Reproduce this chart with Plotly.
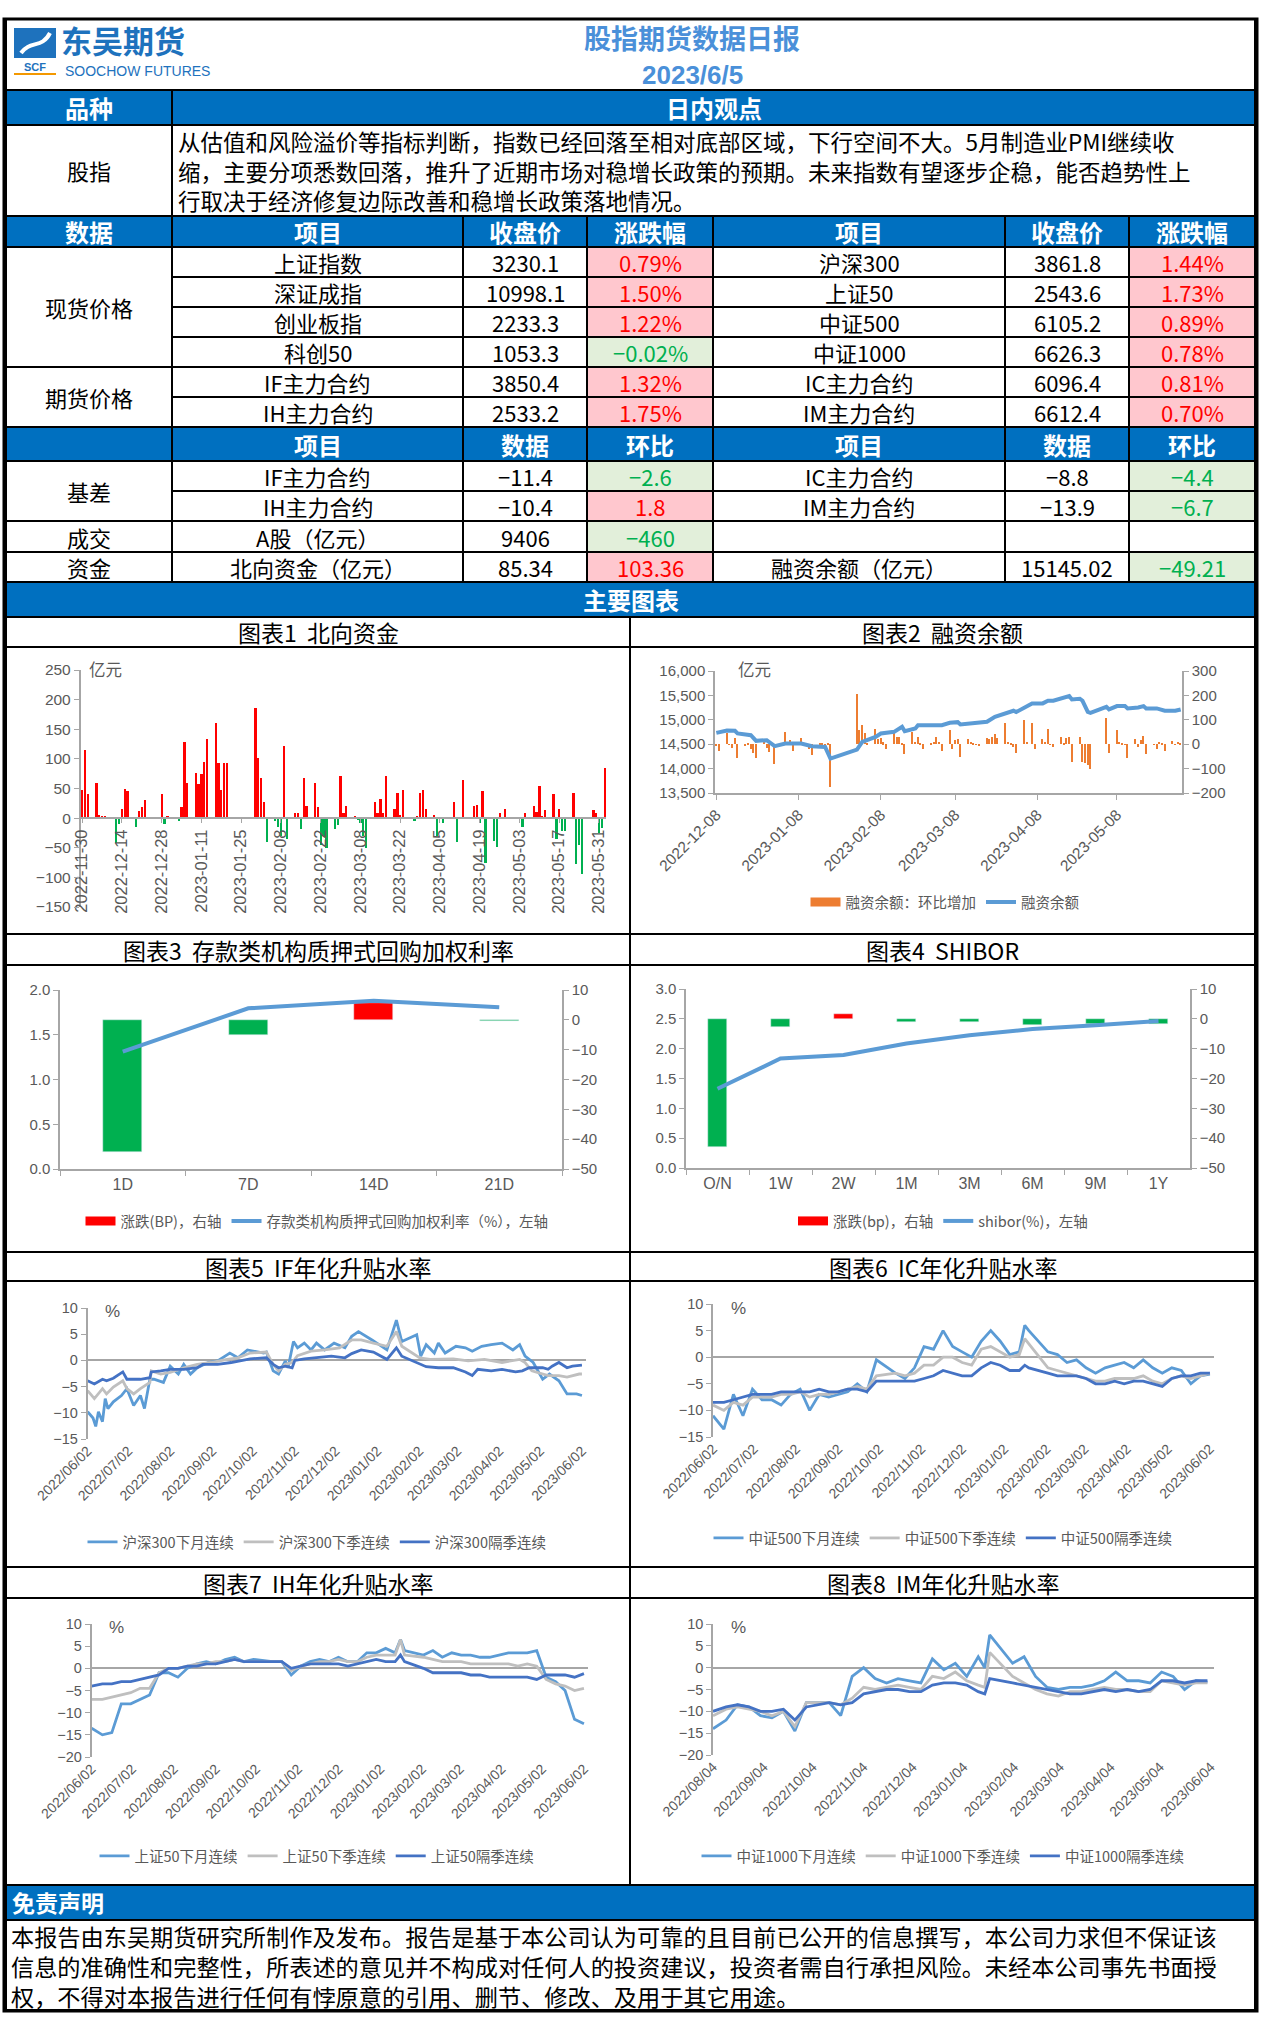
import plotly.graph_objects as go
import pandas as pd

W, H = 1262, 2028


def px(x):
    return x / W


def py(y):
    return 1 - y / H


CJK = "Noto Sans CJK SC"
NARROW = "Liberation Sans Narrow, Noto Sans CJK SC"
SANS = "Liberation Sans, Noto Sans CJK SC"
BAR_BLUE = "#0070C0"
GREY = "#595959"
AXC = "#A6A6A6"
PINK, RED_T = "#FFC7CE", "#FF0000"
LGREEN, GREEN_T = "#E2EFDA", "#00B050"
RED_BAR, GREEN_BAR = "#FF0000", "#00B050"
L_BLUE, L_GREY, D_BLUE = "#5B9BD5", "#BFBFBF", "#4472C4"
ORANGE = "#ED7D31"
LOGO_BLUE = "#1E72BD"
TITLE_BLUE = "#4A90D9"
DAY = 86400000

# ------------------------------------------------------------------ text data
report_title = "股指期货数据日报"
report_date = "2023/6/5"
company_cn = "东吴期货"
company_en = "SOOCHOW FUTURES"
company_abbr = "SCF"

view_label = "股指"
view_lines = [
    "从估值和风险溢价等指标判断，指数已经回落至相对底部区域，下行空间不大。5月制造业PMI继续收",
    "缩，主要分项悉数回落，推升了近期市场对稳增长政策的预期。未来指数有望逐步企稳，能否趋势性上",
    "行取决于经济修复边际改善和稳增长政策落地情况。",
]
disclaimer_lines = [
    "本报告由东吴期货研究所制作及发布。报告是基于本公司认为可靠的且目前已公开的信息撰写，本公司力求但不保证该",
    "信息的准确性和完整性，所表述的意见并不构成对任何人的投资建议，投资者需自行承担风险。未经本公司事先书面授",
    "权，不得对本报告进行任何有悖原意的引用、删节、修改、及用于其它用途。",
]

# ------------------------------------------------------------------ table data
spot_names_l = ["上证指数", "深证成指", "创业板指", "科创50"]
spot_close_l = [3230.1, 10998.1, 2233.3, 1053.3]
spot_chg_l = [0.79, 1.50, 1.22, -0.02]
spot_names_r = ["沪深300", "上证50", "中证500", "中证1000"]
spot_close_r = [3861.8, 2543.6, 6105.2, 6626.3]
spot_chg_r = [1.44, 1.73, 0.89, 0.78]

fut_names_l = ["IF主力合约", "IH主力合约"]
fut_close_l = [3850.4, 2533.2]
fut_chg_l = [1.32, 1.75]
fut_names_r = ["IC主力合约", "IM主力合约"]
fut_close_r = [6096.4, 6612.4]
fut_chg_r = [0.81, 0.70]

basis_names_l = ["IF主力合约", "IH主力合约"]
basis_val_l = [-11.4, -10.4]
basis_chg_l = [-2.6, 1.8]
basis_names_r = ["IC主力合约", "IM主力合约"]
basis_val_r = [-8.8, -13.9]
basis_chg_r = [-4.4, -6.7]

turnover_name = "A股（亿元）"
turnover_val = 9406
turnover_chg = -460
north_name = "北向资金（亿元）"
north_val = 85.34
north_chg = 103.36
margin_name = "融资余额（亿元）"
margin_val = 15145.02
margin_chg = -49.21

# ------------------------------------------------------------------ chart data
holidays = ["2023-01-02", "2023-01-23", "2023-01-24", "2023-01-25", "2023-01-26",
            "2023-01-27", "2023-04-05", "2023-05-01", "2023-05-02", "2023-05-03"]


def trading_days(start, end):
    d = pd.bdate_range(start, end)
    d = d[~d.isin(pd.to_datetime(holidays))]
    return [x.strftime("%Y-%m-%d") for x in d]


# 图表1 北向资金 (亿元), one value per trading day 2022-11-30 .. 2023-06-02
nb_dates = trading_days("2022-11-30", "2023-06-02")
nb_values = [48, 115, 40,
             60, 5, 3, 3, 0,
             -42, -10, 16, 50, 45,
             -15, 12, 18, 30, 0,
             0, 0, 40, -10, 3,
             -5, 18, 128, 60,
             77, 57, 75, 95, 133,
             160, 93, 47, 93, 93,
             186, 102, 68, 28, -40,
             -5, -15, -30, 122, -35,
             8, 8, -18, 68, 21,
             60, 18, -45, -30, -50,
             -18, -12, 71, 8, 20,
             3, -3, -8, -30, -50,
             27, 8, 33, 8, 71,
             16, 42, 5, 48, 0,
             -5, 3, 42, 48, 16,
             5, -30, -8, 0,
             27, -40, 0, 65, 0,
             20, 22, -8, 46, -75,
             -38, -48, 8, 0, 16,
             -15, 8,
             20, 10, 55, 3, 14,
             40, -35, 16, -22, -22,
             42, -78, -45, -95, 0,
             14, 8, -25, -16, 85]

# 图表2 融资余额: daily change (亿元) 2022-12-08 .. 2023-06-01
mg_dates = trading_days("2022-12-08", "2023-06-01")
mg_change = [-8, -27,
             45, -3, -16, 25, -55,
             -7, 4, -20, -37, -55,
             11, -14, -33, -5, -80,
             52, 4, 18, -27,
             25, 4, 2, -20, -44,
             4, 2, -10, 3, -176,
             205, 59, 79, 45, 4,
             61, 20, 25, 8, -20,
             52, 31, 31, 4, -41,
             52, 10, 31, 4, -20,
             6, 11, 31, 11, -27,
             59, -20, 18, 20, -53,
             20, 11, 4, -3, -5,
             25, 22, 31, 41, 25,
             86, 11, 2, -10, -37,
             100, 10, 86, -20,
             20, 11, 61, -3, -10,
             31, 4, 25, 31, -71,
             31, -71, -78, -85, -101,
             106, -37,
             59, 11, 4, -3, -57,
             20, -10, 18, 35, -41,
             -3, -20, 11, 2, -27,
             15, -3, 11, 4]
mg_line_dates = ["2022-12-08", "2022-12-12", "2022-12-15", "2022-12-16", "2022-12-21", "2022-12-23",
                 "2022-12-27", "2022-12-30", "2023-01-03", "2023-01-09", "2023-01-13", "2023-01-18",
                 "2023-01-20", "2023-01-30", "2023-02-01", "2023-02-06", "2023-02-08", "2023-02-13",
                 "2023-02-16", "2023-02-17", "2023-02-21", "2023-02-22", "2023-02-28", "2023-03-03",
                 "2023-03-06", "2023-03-09", "2023-03-10", "2023-03-13", "2023-03-17", "2023-03-20",
                 "2023-03-23", "2023-03-27", "2023-03-30", "2023-03-31", "2023-04-03", "2023-04-06",
                 "2023-04-10", "2023-04-12", "2023-04-14", "2023-04-17", "2023-04-20", "2023-04-21",
                 "2023-04-24", "2023-04-25", "2023-04-27", "2023-04-28", "2023-05-04", "2023-05-05",
                 "2023-05-08", "2023-05-11", "2023-05-12", "2023-05-16", "2023-05-18", "2023-05-19",
                 "2023-05-23", "2023-05-26", "2023-05-30", "2023-06-01"]
mg_line_values = [14733, 14781, 14774, 14720, 14685, 14569,
                  14582, 14459, 14514, 14514, 14459, 14445,
                  14205, 14390, 14548, 14651, 14719, 14753,
                  14856, 14767, 14822, 14890, 14890, 14890,
                  14938, 14952, 14904, 14925, 14938, 14959,
                  15062, 15144, 15185, 15158, 15253, 15336,
                  15336, 15390, 15390, 15432, 15486, 15418,
                  15432, 15390, 15164, 15144, 15267, 15212,
                  15281, 15281, 15233, 15253, 15281, 15233,
                  15233, 15185, 15185, 15212]

# 图表3 存款类机构质押式回购加权利率
repo_terms = ["1D", "7D", "14D", "21D"]
repo_rate = [1.312, 1.795, 1.881, 1.807]
repo_chg = [-44.2, -5.1, 5.6, -0.3]

# 图表4 SHIBOR
shibor_terms = ["O/N", "1W", "2W", "1M", "3M", "6M", "9M", "1Y"]
shibor_rate = [1.329, 1.834, 1.895, 2.088, 2.224, 2.330, 2.393, 2.463]
shibor_chg = [-43.0, -2.8, 1.5, -1.1, -1.1, -2.0, -1.7, -1.6]

# 图表5 IF 年化升贴水率 (%)
if_m_dates = ["2022-06-02", "2022-06-06", "2022-06-08", "2022-06-10", "2022-06-13", "2022-06-15",
              "2022-06-17", "2022-06-21", "2022-06-27", "2022-07-01", "2022-07-06", "2022-07-11",
              "2022-07-14", "2022-07-18", "2022-07-21", "2022-07-28", "2022-08-02", "2022-08-08",
              "2022-08-12", "2022-08-17", "2022-08-22", "2022-08-30", "2022-09-06", "2022-09-15",
              "2022-09-21", "2022-09-28", "2022-10-10", "2022-10-12", "2022-10-17", "2022-10-21",
              "2022-10-26", "2022-10-28", "2022-11-01", "2022-11-04", "2022-11-09", "2022-11-14",
              "2022-11-18", "2022-11-24", "2022-12-01", "2022-12-09", "2022-12-14", "2022-12-19",
              "2022-12-29", "2023-01-09", "2023-01-16", "2023-01-20", "2023-01-31", "2023-02-03",
              "2023-02-07", "2023-02-13", "2023-02-16", "2023-02-21", "2023-03-01", "2023-03-08",
              "2023-03-13", "2023-03-20", "2023-03-27", "2023-04-04", "2023-04-12", "2023-04-17",
              "2023-04-21", "2023-04-27", "2023-05-04", "2023-05-09", "2023-05-16", "2023-05-22",
              "2023-05-29", "2023-06-02"]
if_m_values = [-9.8, -11, -12.6, -9.8, -11.7, -7.3,
               -9.2, -7.9, -6.7, -5.4, -8.6, -6.7,
               -9.2, -3.6, -3.6, -4.2, -1.1, -2.6,
               -0.75, -2.6, -1.4, -0.4, -0.1, 1.4,
               0.5, 2, 1.4, 1.6, -2, -2.6,
               -0.1, -1.4, 3.6, 2.4, 3.3, 2,
               3.3, 2, 3.3, 2.4, 4.6, 5.5,
               3.9, 2, 7.7, 3.6, 4.9, 0.8,
               3, 1.4, 3.3, 1.4, 2.7, 2.4,
               1.75, 2.7, 3, 3.3, 2, 3,
               0.8, -0.4, -3.6, -2.6, -3.9, -6.4,
               -6.4, -6.7]
if_q_dates = ["2022-06-02", "2022-06-07", "2022-06-13", "2022-06-16", "2022-06-21", "2022-06-28",
              "2022-07-01", "2022-07-06", "2022-07-11", "2022-07-18", "2022-07-19", "2022-07-26",
              "2022-08-02", "2022-08-12", "2022-08-22", "2022-09-01", "2022-09-13", "2022-09-21",
              "2022-09-30", "2022-10-12", "2022-10-17", "2022-10-21", "2022-10-26", "2022-10-31",
              "2022-11-04", "2022-11-14", "2022-11-24", "2022-12-05", "2022-12-14", "2022-12-21",
              "2022-12-30", "2023-01-09", "2023-01-16", "2023-01-20", "2023-02-02", "2023-02-10",
              "2023-02-27", "2023-03-10", "2023-03-22", "2023-04-04", "2023-04-17", "2023-04-21",
              "2023-04-26", "2023-05-08", "2023-05-16", "2023-05-22", "2023-05-31", "2023-06-02"]
if_q_values = [-5.75, -7.3, -5.4, -6.4, -5.1, -3.9,
               -5.4, -6.4, -5.4, -4.2, -2, -2.6,
               -2.3, -1.4, -0.75, -0.4, 0.2, 0.5,
               1.4, 1.6, -0.75, -2, -0.75, -0.4,
               0.9, 1.75, 2, 2.4, 3.9, 3.9,
               3.3, 2.7, 5.5, 2.7, 0.5, 0.2,
               0.3, -0.1, 0.2, -0.4, 0.2, -0.4,
               -2, -2.9, -2.9, -3.2, -2.6, -2.6]
if_f_dates = ["2022-06-02", "2022-06-07", "2022-06-13", "2022-06-16", "2022-06-21", "2022-06-28",
              "2022-07-01", "2022-07-06", "2022-07-11", "2022-07-18", "2022-07-19", "2022-07-26",
              "2022-08-02", "2022-08-12", "2022-08-22", "2022-08-26", "2022-09-06", "2022-09-16",
              "2022-09-26", "2022-09-30", "2022-10-12", "2022-10-17", "2022-10-21", "2022-10-26",
              "2022-10-31", "2022-11-02", "2022-11-09", "2022-11-18", "2022-11-29", "2022-12-09",
              "2022-12-14", "2022-12-21", "2022-12-30", "2023-01-09", "2023-01-16", "2023-01-20",
              "2023-02-02", "2023-02-07", "2023-02-16", "2023-02-27", "2023-03-08", "2023-03-13",
              "2023-03-17", "2023-03-27", "2023-04-04", "2023-04-14", "2023-04-19", "2023-04-24",
              "2023-05-04", "2023-05-08", "2023-05-11", "2023-05-16", "2023-05-22", "2023-05-26",
              "2023-06-02"]
if_f_values = [-3.9, -4.5, -3.6, -3.9, -3.4, -2.2,
               -3.6, -3.6, -3.6, -3.3, -2.2, -2,
               -1.7, -1.7, -1.4, -0.75, -0.75, -0.4,
               0.2, 0.3, 0.5, -0.75, -1.4, -1.1,
               -1.4, 0, 0.3, 0.5, 0.8, 0.5,
               1.3, 2, 1.6, 0.2, 2.4, 0.8,
               -0.75, -1.2, -1.4, -1.4, -2.2, -2.9,
               -1.7, -2, -1.7, -2.2, -2, -1.4,
               -1.4, -1.7, -1.1, -0.4, -1.4, -1.1,
               -0.9]

# 图表6-7 年化升贴水率 (%), weekly readings
basis_dates = ["2022-06-02", "2022-06-10", "2022-06-17", "2022-06-24",
               "2022-07-01", "2022-07-08", "2022-07-15", "2022-07-22", "2022-07-29",
               "2022-08-05", "2022-08-12", "2022-08-19", "2022-08-26",
               "2022-09-02", "2022-09-09", "2022-09-16", "2022-09-23", "2022-09-30",
               "2022-10-14", "2022-10-21", "2022-10-28",
               "2022-11-04", "2022-11-11", "2022-11-18", "2022-11-25",
               "2022-12-02", "2022-12-09", "2022-12-16", "2022-12-23", "2022-12-30",
               "2023-01-06", "2023-01-13", "2023-01-17", "2023-01-20",
               "2023-02-03", "2023-02-10", "2023-02-17", "2023-02-24",
               "2023-03-03", "2023-03-10", "2023-03-17", "2023-03-24", "2023-03-31",
               "2023-04-07", "2023-04-14", "2023-04-21", "2023-04-28",
               "2023-05-05", "2023-05-12", "2023-05-19", "2023-05-26", "2023-06-02"]

ic_next_month = [-11, -13.5, -7, -11, -6, -8, -8, -9, -7, -6, -10, -7, -7.5,
                 -7, -6.5, -5, -6.5, -0.5, -3, -4, -2, 2, 1.5, 5, 2,
                 1, 0, 3, 5, 3, 0.5, 1, 6, 5, 1, 0.5, -1, -0.5,
                 -2, -3, -2, -1.5, -1, -2, -0.5, -2, -3, -2, -2.5, -5, -3.5, -3.2]
ic_next_quarter = [-9, -10, -8.5, -9, -7.5, -7.5, -7.5, -7, -7, -6.5, -7.5, -7, -7,
                   -6.5, -6, -5.5, -6, -3.5, -3, -3.5, -3, -1.5, -1.5, 0, 0,
                   -1, -1.5, 1.5, 2, 1, 0, 0.5, 3.5, 2.5, -2, -2.5, -3, -3.5,
                   -4, -4.5, -4.5, -4, -4, -4, -3.5, -4.5, -5, -4, -3.5, -4, -3.5, -3]
ic_far_quarter = [-8.5, -8.5, -8, -7.5, -7, -7, -7, -6.5, -6.5, -6.5, -6.5, -6, -6.5,
                  -6.5, -6, -6, -6.5, -4.5, -4.5, -4.5, -4.5, -4, -3.5, -2.5, -3,
                  -3.5, -3.5, -2, -1, -1.5, -2.5, -2.5, -1.5, -2, -3, -3.5, -3.5, -3.5,
                  -4, -5, -5, -4.5, -5, -4.5, -4.5, -5, -5.5, -4, -3.5, -3.5, -3, -3]

ih_next_month = [-13.5, -15, -14.5, -8, -8, -7, -6, -1, -1, -2, 0, 1, 1.5,
                 1, 2, 2.5, 1.5, 2, 1.5, 1.5, -1.5, 0.5, 1.5, 2, 1.5,
                 2.5, 1.5, 1.5, 3.5, 3.5, 4.5, 3.5, 6.5, 4, 3, 4, 2.5, 3.5,
                 3, 3, 2.5, 2.5, 3, 3.5, 3.5, 3.5, 4, -2, -3, -5, -11.5, -12.5]
ih_next_quarter = [-7, -7, -6.5, -6, -5.5, -4.5, -4.5, -1, 0, 0, 0.5, 1, 1,
                   1.5, 1.5, 2, 1.5, 1.5, 1.5, 1.5, -0.5, 0.5, 1, 1.5, 1.5,
                   2, 1.5, 1.5, 2.5, 3, 3, 3, 6.5, 3, 2.5, 2, 1.5, 1.5,
                   1.5, 1, 1, 1, 1, 1, 0.5, 1, 0.5, -2.5, -3.5, -4, -5, -4.5]
ih_far_quarter = [-4, -3.5, -3.5, -3, -3, -2.5, -2, -1.5, 0, 0, 0.5, 0.5, 1,
                  1, 1.5, 2, 1.5, 1.5, 1.5, 1.5, 0, 0.5, 1, 1, 1,
                  1, 0.5, 1, 1.5, 2, 1.5, 1.5, 3, 1.5, 0, -1, -1, -1,
                  -1, -1.5, -1.5, -2, -2, -2, -2, -2, -2.5, -1.5, -1.5, -1.5, -2, -1.2]

# 图表8 IM (listed since 2022-08)
im_dates = ["2022-08-04", "2022-08-12", "2022-08-19", "2022-08-26",
            "2022-09-02", "2022-09-09", "2022-09-16", "2022-09-23", "2022-09-30",
            "2022-10-14", "2022-10-21", "2022-10-28",
            "2022-11-04", "2022-11-11", "2022-11-18", "2022-11-25",
            "2022-12-02", "2022-12-09", "2022-12-16", "2022-12-23", "2022-12-30",
            "2023-01-06", "2023-01-13", "2023-01-17", "2023-01-20",
            "2023-02-03", "2023-02-10", "2023-02-17", "2023-02-24",
            "2023-03-03", "2023-03-10", "2023-03-17", "2023-03-24", "2023-03-31",
            "2023-04-07", "2023-04-14", "2023-04-21", "2023-04-28",
            "2023-05-05", "2023-05-12", "2023-05-19", "2023-05-26", "2023-06-02"]
im_next_month = [-14, -12, -8.5, -9, -11, -11.5, -10, -14.5, -8, -8, -11, -2,
                 0, -2.5, -3.5, -2.5, -3, -3.5, 2, -0.5, 1, -2, 2.5, 0, 7.5,
                 1, 2.5, -2, -4.5, -5, -4.5, -4.5, -4, -3, -1, -3, -3, -3.5,
                 -1, -2, -5, -3, -3.3]
im_next_quarter = [-11, -9.5, -9, -9.5, -10, -11, -10, -13.5, -8, -8, -8.5, -7,
                   -4.5, -5, -4.5, -4, -4.5, -5, -2, -2.5, -1, -3, -4, -4.5, 3.5,
                   -2, -3.5, -5, -6, -6.5, -5.5, -5.5, -5, -4.5, -5, -5, -5.5, -5.5,
                   -3, -3.5, -4, -3.5, -3.5]
im_far_quarter = [-10, -9, -8.5, -9, -10, -10, -9.5, -12, -9, -8, -8.5, -8,
                  -6, -5.5, -5, -5, -5.5, -5.5, -4, -3.5, -3.5, -4, -5.5, -6, -2.5,
                  -3.5, -4, -4.5, -5, -5.5, -6, -6, -5.5, -5, -5.5, -5, -5.5, -5,
                  -3, -3, -3.5, -3, -3]

assert len(nb_dates) == len(nb_values)
assert len(mg_dates) == len(mg_change)
assert len(mg_line_dates) == len(mg_line_values)
assert len(if_m_dates) == len(if_m_values)
assert len(if_q_dates) == len(if_q_values)
assert len(if_f_dates) == len(if_f_values)
for s in (ic_next_month, ic_next_quarter, ic_far_quarter,
          ih_next_month, ih_next_quarter, ih_far_quarter):
    assert len(s) == len(basis_dates), len(s)
for s in (im_next_month, im_next_quarter, im_far_quarter):
    assert len(s) == len(im_dates), len(s)

# ------------------------------------------------------------------ page frame helpers
shapes, annots = [], []


def rect(x0, y0, x1, y1, fill="white", lw=2, lc="black"):
    shapes.append(dict(type="rect", xref="paper", yref="paper",
                       x0=px(x0), x1=px(x1), y0=py(y1), y1=py(y0),
                       fillcolor=fill, line=dict(color=lc, width=lw), layer="below"))


def label(x, y, s, size=22, color="black", family=NARROW, xanchor="center", yanchor="middle",
          align="center"):
    annots.append(dict(xref="paper", yref="paper", x=px(x), y=py(y), text=s, showarrow=False,
                       xanchor=xanchor, yanchor=yanchor, align=align, borderpad=0,
                       font=dict(size=size, color=color, family=family)))


def cell(x0, x1, y0, y1, s="", fill="white", color="black", size=22, bold=False):
    rect(x0, y0, x1, y1, fill)
    if s != "":
        label((x0 + x1) / 2, (y0 + y1) / 2, f"<b>{s}</b>" if bold else s, size, color)


def chg_cell(x0, x1, y0, y1, v, s):
    up = v > 0
    cell(x0, x1, y0, y1, s, PINK if up else LGREEN, RED_T if up else GREEN_T)


def num(v, d):
    return f"{v:.{d}f}".replace("-", "−")


def blue_cell(x0, x1, y0, y1, s):
    cell(x0, x1, y0, y1, s, BAR_BLUE, "white", 24, True)


C = [6, 172, 463, 587, 713, 1005, 1129, 1255]
MID = 630

# header
rect(6, 19, 1255, 90)
rect(14, 28, 56, 58, fill=LOGO_BLUE, lw=0)
shapes.append(dict(type="path", xref="paper", yref="paper", layer="above",
                   path=f"M {px(21)} {py(53)} C {px(30)} {py(40)}, {px(42)} {py(49)}, {px(50)} {py(33)}",
                   line=dict(color="white", width=4)))
label(35, 67, f"<b>{company_abbr}</b>", 11, LOGO_BLUE, SANS)
rect(14, 73, 56, 75, fill="#F39800", lw=0)
label(60, 40, f"<b>{company_cn}</b>", 31, LOGO_BLUE, CJK, xanchor="left")
label(64, 71, company_en, 14, LOGO_BLUE, SANS, xanchor="left")
label(692, 38, f"<b>{report_title}</b>", 27, TITLE_BLUE, CJK)
label(692, 75, f"<b>{report_date}</b>", 26, TITLE_BLUE, SANS)

# view row
blue_cell(C[0], C[1], 90, 125, "品种")
blue_cell(C[1], C[7], 90, 125, "日内观点")
cell(C[0], C[1], 125, 216, view_label)
rect(C[1], 125, C[7], 216)
for i, line in enumerate(view_lines):
    label(177, 141 + 29.6 * i, line, 22.5, "black", CJK, xanchor="left")

# price table
for j, s in enumerate(["数据", "项目", "收盘价", "涨跌幅", "项目", "收盘价", "涨跌幅"]):
    blue_cell(C[j], C[j + 1], 216, 247, s)

R0, RH = 247, 30
cell(C[0], C[1], R0, R0 + 4 * RH, "现货价格")
cell(C[0], C[1], R0 + 4 * RH, R0 + 6 * RH, "期货价格")
rows = []
for i in range(4):
    rows.append((spot_names_l[i], spot_close_l[i], spot_chg_l[i],
                 spot_names_r[i], spot_close_r[i], spot_chg_r[i]))
for i in range(2):
    rows.append((fut_names_l[i], fut_close_l[i], fut_chg_l[i],
                 fut_names_r[i], fut_close_r[i], fut_chg_r[i]))
for i, (nl, cl, gl, nr, cr, gr) in enumerate(rows):
    y0, y1 = R0 + i * RH, R0 + (i + 1) * RH
    cell(C[1], C[2], y0, y1, nl)
    cell(C[2], C[3], y0, y1, num(cl, 1))
    chg_cell(C[3], C[4], y0, y1, gl, num(gl, 2) + "%")
    cell(C[4], C[5], y0, y1, nr)
    cell(C[5], C[6], y0, y1, num(cr, 1))
    chg_cell(C[6], C[7], y0, y1, gr, num(gr, 2) + "%")

for j, s in enumerate(["", "项目", "数据", "环比", "项目", "数据", "环比"]):
    blue_cell(C[j], C[j + 1], 427, 461, s)

B0 = 461
cell(C[0], C[1], B0, B0 + 2 * RH, "基差")
for i in range(2):
    y0, y1 = B0 + i * RH, B0 + (i + 1) * RH
    cell(C[1], C[2], y0, y1, basis_names_l[i])
    cell(C[2], C[3], y0, y1, num(basis_val_l[i], 1))
    chg_cell(C[3], C[4], y0, y1, basis_chg_l[i], num(basis_chg_l[i], 1))
    cell(C[4], C[5], y0, y1, basis_names_r[i])
    cell(C[5], C[6], y0, y1, num(basis_val_r[i], 1))
    chg_cell(C[6], C[7], y0, y1, basis_chg_r[i], num(basis_chg_r[i], 1))

y0, y1 = 521, 552
cell(C[0], C[1], y0, y1, "成交")
cell(C[1], C[2], y0, y1, turnover_name)
cell(C[2], C[3], y0, y1, num(turnover_val, 0))
chg_cell(C[3], C[4], y0, y1, turnover_chg, num(turnover_chg, 0))
for j in (4, 5, 6):
    cell(C[j], C[j + 1], y0, y1)
y0, y1 = 552, 582
cell(C[0], C[1], y0, y1, "资金")
cell(C[1], C[2], y0, y1, north_name)
cell(C[2], C[3], y0, y1, num(north_val, 2))
chg_cell(C[3], C[4], y0, y1, north_chg, num(north_chg, 2))
cell(C[4], C[5], y0, y1, margin_name)
cell(C[5], C[6], y0, y1, num(margin_val, 2))
chg_cell(C[6], C[7], y0, y1, margin_chg, num(margin_chg, 2))

blue_cell(C[0], C[7], 582, 617, "主要图表")

chart_rows = [(617, 647, 934), (934, 965, 1252), (1252, 1281, 1567), (1567, 1598, 1885)]
chart_titles = [("图表1  北向资金", "图表2  融资余额"),
                ("图表3  存款类机构质押式回购加权利率", "图表4  SHIBOR"),
                ("图表5  IF年化升贴水率", "图表6  IC年化升贴水率"),
                ("图表7  IH年化升贴水率", "图表8  IM年化升贴水率")]
for (t0, t1, b1), (tl, tr) in zip(chart_rows, chart_titles):
    rect(C[0], t0, MID, t1)
    rect(MID, t0, C[7], t1)
    label((C[0] + MID) / 2, (t0 + t1) / 2, tl, 23, "black", CJK)
    label((MID + C[7]) / 2, (t0 + t1) / 2, tr, 23, "black", CJK)
    rect(C[0], t1, MID, b1)
    rect(MID, t1, C[7], b1)

rect(C[0], 1885, C[7], 1920, fill=BAR_BLUE)
label(11, 1902, "<b>免责声明</b>", 23, "white", CJK, xanchor="left")
rect(C[0], 1920, C[7], 2010)
label(10, 1966, "<br>".join(disclaimer_lines), 23.2, "black", CJK, xanchor="left", align="left")

rect(4, 19, 1257, 2011, fill="rgba(0,0,0,0)", lw=3)

# ------------------------------------------------------------------ axes helpers


def yax(top, bottom, anchor, rng, dtick, side="left", fmt=None, size=15, **kw):
    d = dict(domain=[py(bottom), py(top)], anchor=anchor, range=rng, dtick=dtick, side=side,
             showline=True, linecolor=AXC, linewidth=1.5, ticks="outside", ticklen=5,
             tickcolor=AXC, showgrid=False, zeroline=False, automargin=False,
             tickfont=dict(size=size, color=GREY, family=SANS))
    if fmt:
        d["tickformat"] = fmt
    d.update(kw)
    return d


def xdate(left, right, anchor, rng, tick0, dtick, fmt, angle, size=14, **kw):
    d = dict(domain=[px(left), px(right)], anchor=anchor, type="date", range=rng,
             tick0=tick0, dtick=dtick, tickformat=fmt, tickangle=angle,
             showgrid=False, zeroline=False, automargin=False,
             tickfont=dict(size=size, color=GREY, family=SANS))
    d.update(kw)
    return d


def xcat(left, right, anchor):
    return dict(domain=[px(left), px(right)], anchor=anchor, type="category",
                showline=True, linecolor=AXC, linewidth=1.5, ticks="outside", ticklen=5,
                tickcolor=AXC, tickson="boundaries", showgrid=False, zeroline=False,
                automargin=False, tickfont=dict(size=16, color=GREY, family=SANS))


def leg(x, y, size=14.5):
    return dict(x=px(x), y=py(y), xanchor="center", yanchor="middle", orientation="h",
                font=dict(size=size, color=GREY, family=CJK), bgcolor="rgba(0,0,0,0)",
                itemwidth=30, tracegroupgap=0)


def legend_swatch(name, color, xa, ya, lg, x0):
    # legend-only entry drawn as a wide flat swatch (no data marks)
    return go.Scatter(x=[x0], y=[None], mode="lines", line=dict(color=color, width=9),
                      name=name, xaxis=xa, yaxis=ya, legend=lg)


traces = []
layout = {}

# 图表1
c1_top, c1_bot = 670, 907
c1_rng = [-150, 250]
zero_px = c1_top + (c1_rng[1] - 0) / (c1_rng[1] - c1_rng[0]) * (c1_bot - c1_top)
layout["xaxis"] = xdate(80.6, 606, "free", ["2022-11-29 12:00", "2023-06-02 12:00"],
                        "2022-11-30", 14 * DAY, "%Y-%m-%d", -90, size=16.5,
                        position=py(zero_px), showline=True, linecolor=AXC, linewidth=1.5,
                        ticks="outside", ticklen=4, tickcolor=AXC)
layout["yaxis"] = yax(c1_top, c1_bot, "x", c1_rng, 50, size=15.5)
traces.append(go.Bar(x=nb_dates, y=nb_values, width=0.62 * DAY,
                     marker=dict(color=[RED_BAR if v >= 0 else GREEN_BAR for v in nb_values],
                                 line=dict(width=0)),
                     xaxis="x", yaxis="y", showlegend=False))
label(105, 669, "亿元", 16.5, GREY, CJK)

# 图表2
c2_top, c2_bot = 671, 793
layout["xaxis2"] = xdate(715, 1182, "y2", ["2022-12-07 12:00", "2023-06-01 12:00"],
                         "2022-12-08", "M1", "%Y-%m-%d", -45, size=15.5,
                         showline=True, linecolor=AXC, linewidth=1.5, ticks="outside",
                         ticklen=5, tickcolor=AXC)
layout["yaxis2"] = yax(c2_top, c2_bot, "x2", [-200, 300], 100, side="right")
layout["yaxis3"] = yax(c2_top, c2_bot, "x2", [13500, 16000], 500, side="left", fmt=",",
                       overlaying="y2")
traces.append(go.Bar(x=mg_dates, y=mg_change, width=0.55 * DAY, marker=dict(color=ORANGE, line=dict(width=0)),
                     xaxis="x2", yaxis="y2", showlegend=False))
traces.append(legend_swatch("融资余额：环比增加", ORANGE, "x2", "y2", "legend", mg_dates[0]))
traces.append(go.Scatter(x=mg_line_dates, y=mg_line_values, mode="lines",
                         line=dict(color=L_BLUE, width=4), name="融资余额",
                         xaxis="x2", yaxis="y3", legend="legend"))
label(754, 669, "亿元", 16.5, GREY, CJK)
layout["legend"] = leg(945, 902)

# 图表3
c3_top, c3_bot = 990, 1169
layout["xaxis3"] = xcat(60, 562, "y4")
layout["yaxis4"] = yax(c3_top, c3_bot, "x3", [-50, 10], 10, side="right")
layout["yaxis5"] = yax(c3_top, c3_bot, "x3", [0, 2.0], 0.5, side="left", fmt=".1f",
                       overlaying="y4")
traces.append(go.Bar(x=repo_terms, y=repo_chg, width=0.31,
                     marker=dict(color=[RED_BAR if v > 0 else GREEN_BAR for v in repo_chg]),
                     xaxis="x3", yaxis="y4", showlegend=False))
traces.append(legend_swatch("涨跌(BP)，右轴", RED_BAR, "x3", "y4", "legend2", repo_terms[0]))
traces.append(go.Scatter(x=repo_terms, y=repo_rate, mode="lines", line=dict(color=L_BLUE, width=4),
                         name="存款类机构质押式回购加权利率（%），左轴", xaxis="x3", yaxis="y5",
                         legend="legend2"))
layout["legend2"] = leg(317, 1221)

# 图表4
c4_top, c4_bot = 989, 1168
layout["xaxis4"] = xcat(686, 1190, "y6")
layout["yaxis6"] = yax(c4_top, c4_bot, "x4", [-50, 10], 10, side="right")
layout["yaxis7"] = yax(c4_top, c4_bot, "x4", [0, 3.0], 0.5, side="left", fmt=".1f",
                       overlaying="y6")
traces.append(go.Bar(x=shibor_terms, y=shibor_chg, width=0.31,
                     marker=dict(color=[RED_BAR if v > 0 else GREEN_BAR for v in shibor_chg]),
                     xaxis="x4", yaxis="y6", showlegend=False))
traces.append(legend_swatch("涨跌(bp)，右轴", RED_BAR, "x4", "y6", "legend3", shibor_terms[0]))
traces.append(go.Scatter(x=shibor_terms, y=shibor_rate, mode="lines", line=dict(color=L_BLUE, width=4),
                         name="shibor(%)，左轴", xaxis="x4", yaxis="y7", legend="legend3"))
layout["legend3"] = leg(943, 1221)

# 图表5-8
basis_charts = [
    ("x5", "y8", 87.6, 586, 1308, 1439, [-15, 10], ["2022-06-02", "2023-06-05"], "2022-06-02",
     ((if_m_dates, if_m_values), (if_q_dates, if_q_values), (if_f_dates, if_f_values)),
     ("沪深300下月连续", "沪深300下季连续", "沪深300隔季连续"), "legend4", (317, 1542), (112, 1311)),
    ("x6", "y9", 713, 1214, 1304, 1437, [-15, 10], ["2022-06-02", "2023-06-05"], "2022-06-02",
     ((basis_dates, ic_next_month), (basis_dates, ic_next_quarter), (basis_dates, ic_far_quarter)),
     ("中证500下月连续", "中证500下季连续", "中证500隔季连续"), "legend5", (943, 1538), (738, 1308)),
    ("x7", "y10", 91.6, 588, 1624, 1757, [-20, 10], ["2022-06-02", "2023-06-05"], "2022-06-02",
     ((basis_dates, ih_next_month), (basis_dates, ih_next_quarter), (basis_dates, ih_far_quarter)),
     ("上证50下月连续", "上证50下季连续", "上证50隔季连续"), "legend6", (317, 1856), (116, 1627)),
    ("x8", "y11", 713, 1214, 1624, 1755, [-20, 10], ["2022-08-04", "2023-06-06"], "2022-08-04",
     ((im_dates, im_next_month), (im_dates, im_next_quarter), (im_dates, im_far_quarter)),
     ("中证1000下月连续", "中证1000下季连续", "中证1000隔季连续"), "legend7", (943, 1856), (738, 1627)),
]
colors = (L_BLUE, L_GREY, D_BLUE)
for (xa, ya, l, r, t, b, yr, xr, t0, series, names, lg, lpos, ppos) in basis_charts:
    xkey = "xaxis" + xa[1:]
    ykey = "yaxis" + ya[1:]
    layout[xkey] = xdate(l, r, ya, xr, t0, "M1", "%Y/%m/%d", -45, size=14)
    layout[ykey] = yax(t, b, xa, yr, 5, size=14.5, zeroline=True, zerolinecolor=AXC, zerolinewidth=1.5)
    for (dates, vals), nm, col in zip(series, names, colors):
        traces.append(go.Scatter(x=dates, y=vals, mode="lines", line=dict(color=col, width=2.8),
                                 name=nm, xaxis=xa, yaxis=ya, legend=lg))
    layout[lg] = leg(*lpos)
    label(ppos[0], ppos[1], "%", 17, GREY, SANS)

fig = go.Figure(data=traces)
fig.update_layout(**layout)
fig.update_layout(width=W, height=H, autosize=False,
                  margin=dict(l=0, r=0, t=0, b=0, pad=0, autoexpand=False),
                  paper_bgcolor="white", plot_bgcolor="rgba(0,0,0,0)",
                  shapes=shapes, annotations=annots, hovermode=False,
                  barmode="overlay", bargap=0,
                  font=dict(family=CJK, color=GREY))
fig.write_html("out.html")
